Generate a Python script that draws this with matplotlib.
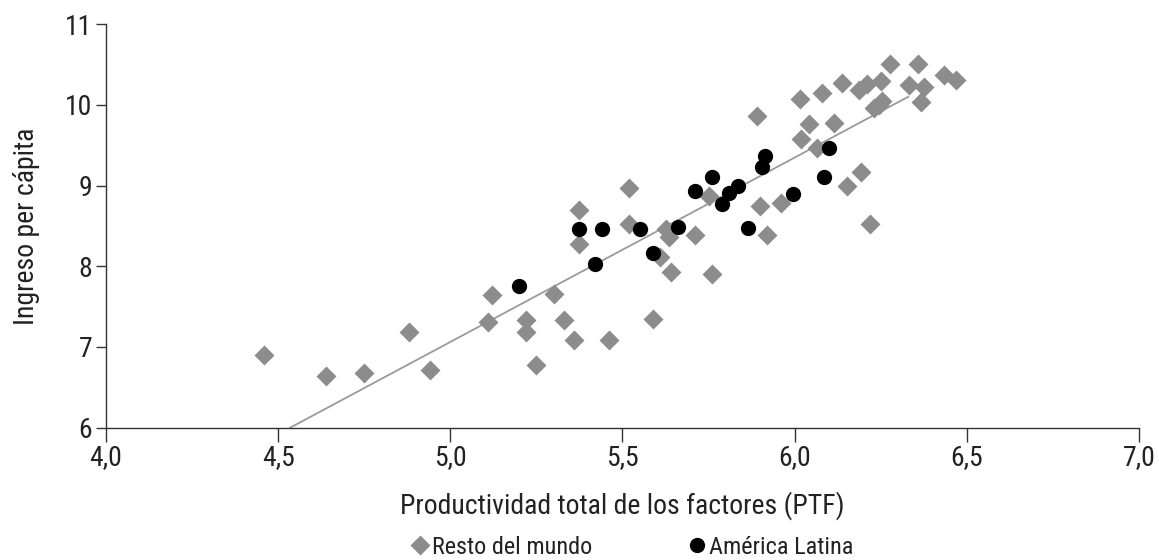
import os

import matplotlib
matplotlib.use("Agg")
from matplotlib import pyplot as plt
from matplotlib import font_manager


def pick_narrow_font():
    """Look for an installed narrow/condensed regular sans face."""
    prefs = ["LiberationSansNarrow-Regular", "RobotoCondensed-Regular",
             "DejaVuSansCondensed.", "OpenSansCondensed", "NotoSans-Condensed.",
             "Condensed-Regular", "Narrow-Regular"]
    files = [f.fname for f in font_manager.fontManager.ttflist]
    for key in prefs:
        for fn in files:
            if key in os.path.basename(fn):
                return fn
    return None


narrow = pick_narrow_font()
if narrow:
    font_manager.fontManager.addfont(narrow)
    fam = font_manager.FontProperties(fname=narrow).get_name()
    plt.rcParams["font.family"] = [fam, "DejaVu Sans"]
    if "DejaVu" in fam:
        plt.rcParams["font.stretch"] = "condensed"
else:
    plt.rcParams["font.family"] = ["Liberation Sans", "DejaVu Sans"]

# Resto del mundo (PTF, ingreso per cápita)
resto_x = [4.46, 4.64, 4.75, 4.88, 4.94, 5.12, 5.11, 5.22, 5.22, 5.25,
           5.30, 5.33, 5.36, 5.375, 5.375, 5.46, 5.52, 5.52, 5.59, 5.625,
           5.635, 5.61, 5.64, 5.71, 5.75, 5.76, 5.89, 5.90, 5.92, 5.96,
           6.015, 6.017, 6.042, 6.064, 6.08, 6.114, 6.137, 6.151, 6.194, 6.219,
           6.187, 6.211, 6.25, 6.245, 6.23, 6.255, 6.277, 6.358, 6.332, 6.376,
           6.366, 6.434, 6.468]
resto_y = [6.90, 6.64, 6.68, 7.18, 6.72, 7.64, 7.31, 7.34, 7.18, 6.78,
           7.66, 7.34, 7.08, 8.70, 8.28, 7.09, 8.97, 8.52, 7.35, 8.46,
           8.36, 8.12, 7.93, 8.385, 8.87, 7.90, 9.86, 8.75, 8.385, 8.78,
           10.07, 9.58, 9.76, 9.47, 10.15, 9.78, 10.27, 9.00, 9.17, 8.52,
           10.18, 10.26, 10.29, 10.00, 9.96, 10.05, 10.50, 10.50, 10.24, 10.22,
           10.04, 10.37, 10.31]

# América Latina
latam_x = [5.20, 5.375, 5.44, 5.42, 5.55, 5.59, 5.66, 5.71, 5.76, 5.79,
           5.81, 5.835, 5.865, 5.913, 5.906, 5.996, 6.085, 6.10]
latam_y = [7.76, 8.456, 8.456, 8.03, 8.456, 8.17, 8.48, 8.93, 9.10, 8.77,
           8.91, 9.00, 8.47, 9.36, 9.23, 8.90, 9.11, 9.47]

# fitted trend
trend_x = [4.535, 6.33]
trend_y = [6.0, 10.10]

x_ticks = [4.0, 4.5, 5.0, 5.5, 6.0, 6.5, 7.0]
y_ticks = [6, 7, 8, 9, 10, 11]

fig = plt.figure(figsize=(11.59, 5.6), dpi=100)
ax = fig.add_axes([0.0915, 0.2363, 0.8912, 0.7207])

ax.plot(trend_x, trend_y, color="#9a9a9a", lw=1.3, zorder=1)
ax.plot(resto_x, resto_y, ls="none", marker="D", ms=10, color="#8c8c8c",
        mec="none", label="Resto del mundo", zorder=2)
ax.plot(latam_x, latam_y, ls="none", marker="o", ms=11, color="black",
        mec="none", label="América Latina", zorder=3)

ax.set_xlim(4.0, 7.0)
ax.set_ylim(6, 11)
ax.set_xticks(x_ticks)
ax.set_xticklabels([f"{v:.1f}".replace(".", ",") for v in x_ticks])
ax.set_yticks(y_ticks)
ax.set_yticklabels([str(v) for v in y_ticks])
ax.tick_params(labelsize=20, width=1, color="#333333", labelcolor="#222222")
ax.tick_params(axis="x", length=10, pad=2)
ax.tick_params(axis="y", length=7, pad=3)

for side in ["top", "right"]:
    ax.spines[side].set_visible(False)
for side in ["left", "bottom"]:
    ax.spines[side].set_color("#333333")
    ax.spines[side].set_linewidth(1)

ax.set_xlabel("Productividad total de los factores (PTF)", fontsize=20,
              color="#222222", labelpad=14)
ax.set_ylabel("Ingreso per cápita", fontsize=20, color="#222222", labelpad=18)

leg = fig.legend(loc="center", bbox_to_anchor=(0.545, 0.023), ncol=2,
                 frameon=False, fontsize=17.5, handletextpad=0.1,
                 columnspacing=3.9, handlelength=0.8, labelcolor="#222222",
                 borderpad=0)

fig.savefig("out.png", dpi=100)
